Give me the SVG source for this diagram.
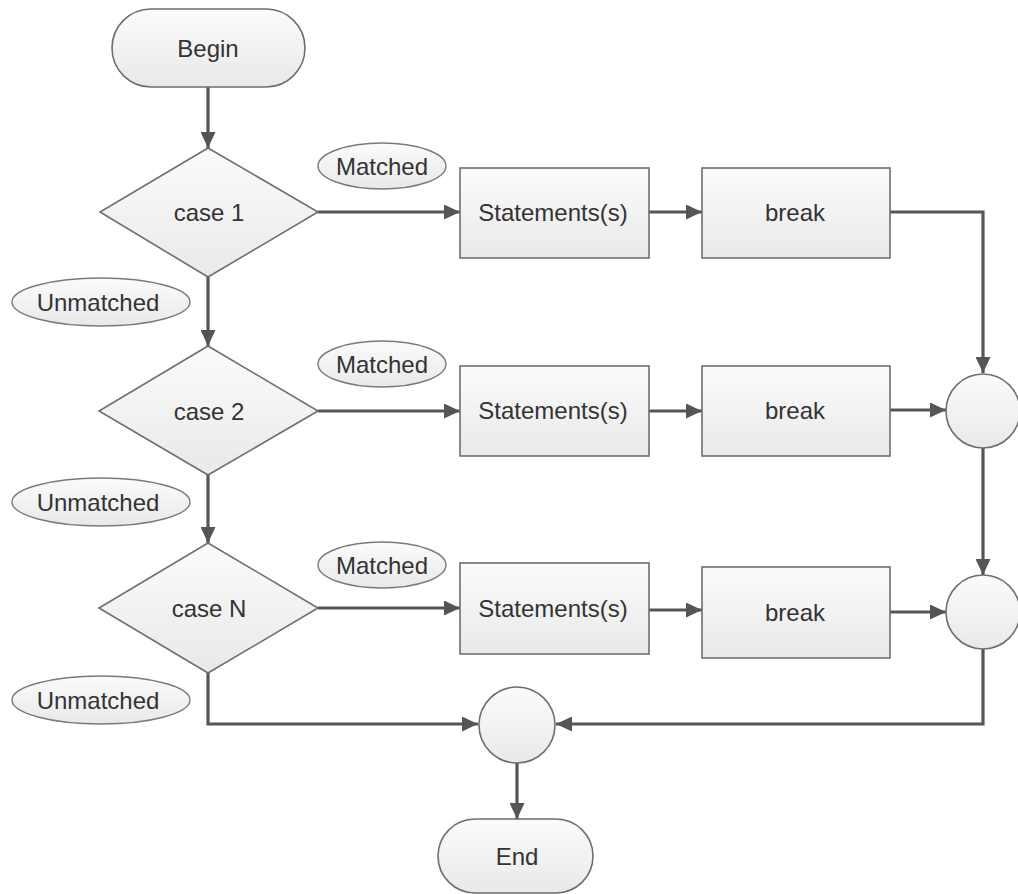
<svg xmlns="http://www.w3.org/2000/svg" width="1018" height="894" viewBox="0 0 1018 894">
<style>
.node{fill:url(#g);stroke:#6e6e6e;stroke-width:1.6}
.lbl{fill:url(#g);stroke:#7a7a7a;stroke-width:1.4}
.t{font-family:"Liberation Sans",Arial,sans-serif;font-size:24px;fill:#333;text-anchor:middle;dominant-baseline:central}
.c{fill:none;stroke:#555;stroke-width:3.2}
</style>
<defs>
<linearGradient id="g" x1="0" y1="0" x2="0" y2="1">
<stop offset="0" stop-color="#fbfbfb"/>
<stop offset="1" stop-color="#e9e9e9"/>
</linearGradient>
<marker id="a" viewBox="0 0 16 15" refX="16" refY="7.5" markerWidth="16" markerHeight="15" markerUnits="userSpaceOnUse" orient="auto">
<path d="M0,0 L16,7.5 L0,15 z" fill="#555"/>
</marker>
</defs>
<rect width="1018" height="894" fill="#fff"/>
<g id="connectors">
<path class="c" d="M208,87 V148" marker-end="url(#a)"/>
<path class="c" d="M318,212 H460" marker-end="url(#a)"/>
<path class="c" d="M649,212 H702" marker-end="url(#a)"/>
<path class="c" d="M890,212 H983 V373" marker-end="url(#a)"/>
<path class="c" d="M208,277 V346" marker-end="url(#a)"/>
<path class="c" d="M318,411 H460" marker-end="url(#a)"/>
<path class="c" d="M649,411 H702" marker-end="url(#a)"/>
<path class="c" d="M890,410 H946" marker-end="url(#a)"/>
<path class="c" d="M983,448 V575" marker-end="url(#a)"/>
<path class="c" d="M208,475 V543" marker-end="url(#a)"/>
<path class="c" d="M318,608 H460" marker-end="url(#a)"/>
<path class="c" d="M649,610 H702" marker-end="url(#a)"/>
<path class="c" d="M890,612 H946" marker-end="url(#a)"/>
<path class="c" d="M983,649 V724 H556" marker-end="url(#a)"/>
<path class="c" d="M208,673 V724 H478" marker-end="url(#a)"/>
<path class="c" d="M517,763 V819" marker-end="url(#a)"/>
</g>
<g id="begin"><rect class="node" x="112" y="9" width="193" height="78" rx="39"/><text class="t" x="208" y="48">Begin</text></g>
<g id="case1"><polygon class="node" points="208,148 318,212 208,277 100,212"/><text class="t" x="209" y="212">case 1</text></g>
<g id="matched1"><ellipse class="lbl" cx="382" cy="166" rx="64" ry="23"/><text class="t" x="382" y="166">Matched</text></g>
<g id="stmt1"><rect class="node" x="460" y="168" width="189" height="90"/><text class="t" x="553" y="212">Statements(s)</text></g>
<g id="break1"><rect class="node" x="702" y="168" width="188" height="90"/><text class="t" x="795" y="212">break</text></g>
<g id="unmatched1"><ellipse class="lbl" cx="101" cy="302" rx="89" ry="24"/><text class="t" x="98" y="302">Unmatched</text></g>
<g id="case2"><polygon class="node" points="208,346 318,411 208,475 99,411"/><text class="t" x="209" y="411">case 2</text></g>
<g id="matched2"><ellipse class="lbl" cx="382" cy="364" rx="64" ry="23"/><text class="t" x="382" y="364">Matched</text></g>
<g id="stmt2"><rect class="node" x="460" y="366" width="189" height="90"/><text class="t" x="553" y="410">Statements(s)</text></g>
<g id="break2"><rect class="node" x="702" y="366" width="188" height="90"/><text class="t" x="795" y="410">break</text></g>
<g id="merge1"><circle class="node" cx="983" cy="411" r="37"/></g>
<g id="unmatched2"><ellipse class="lbl" cx="101" cy="502" rx="89" ry="24"/><text class="t" x="98" y="502">Unmatched</text></g>
<g id="caseN"><polygon class="node" points="208,543 318,608 208,673 99,608"/><text class="t" x="209" y="608">case N</text></g>
<g id="matchedN"><ellipse class="lbl" cx="382" cy="565" rx="64" ry="23"/><text class="t" x="382" y="565">Matched</text></g>
<g id="stmtN"><rect class="node" x="460" y="563" width="189" height="91"/><text class="t" x="553" y="608">Statements(s)</text></g>
<g id="breakN"><rect class="node" x="702" y="567" width="188" height="91"/><text class="t" x="795" y="612">break</text></g>
<g id="merge2"><circle class="node" cx="983" cy="612" r="37"/></g>
<g id="unmatchedN"><ellipse class="lbl" cx="101" cy="700" rx="89" ry="24"/><text class="t" x="98" y="700">Unmatched</text></g>
<g id="merge3"><circle class="node" cx="517" cy="725" r="38"/></g>
<g id="end"><rect class="node" x="438" y="819" width="155" height="74" rx="37"/><text class="t" x="517" y="856">End</text></g>
</svg>
